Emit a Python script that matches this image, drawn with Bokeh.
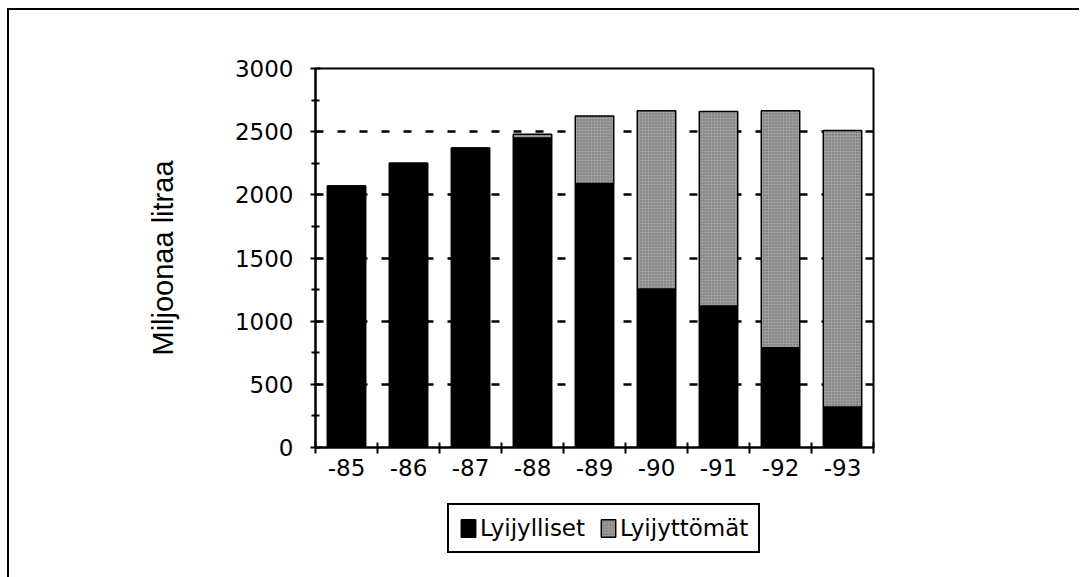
from bokeh.plotting import figure
from bokeh.layouts import column
from bokeh.models import Range1d, FixedTicker, Legend, LegendItem, ColumnDataSource
from bokeh.embed import file_html
from bokeh.resources import INLINE

years = ["-85", "-86", "-87", "-88", "-89", "-90", "-91", "-92", "-93"]
lyijylliset = [2070, 2250, 2370, 2450, 2090, 1255, 1120, 790, 320]
lyijyttomat = [0, 0, 0, 30, 535, 1410, 1540, 1875, 2190]
series = ["lyijylliset", "lyijyttomat"]
series_labels = ["Lyijylliset", "Lyijyttömät"]
y_ticks = [0, 500, 1000, 1500, 2000, 2500, 3000]
y_minor = [250, 750, 1250, 1750, 2250, 2750]

idx = list(range(len(years)))
src = ColumnDataSource(dict(x=idx, lyijylliset=lyijylliset, lyijyttomat=lyijyttomat))
fills = ["black", "#9c9c9c"]


def style_bars(rs):
    rs[1].glyph.hatch_pattern = "."
    rs[1].glyph.hatch_color = "#444444"
    rs[1].glyph.hatch_scale = 3
    rs[1].glyph.hatch_alpha = 0.6


p = figure(frame_width=558, frame_height=379, output_backend="svg", toolbar_location=None,
           x_range=Range1d(-0.5, len(years) - 0.5), y_range=Range1d(0, 3000),
           min_border_left=306, min_border_right=206, min_border_top=58, min_border_bottom=45)

p.outline_line_color = "black"
p.outline_line_width = 2
p.outline_line_alpha = 1
p.xgrid.grid_line_color = None
p.ygrid.ticker = FixedTicker(ticks=y_ticks)
p.ygrid.grid_line_color = "black"
p.ygrid.grid_line_width = 2.5
p.ygrid.grid_line_dash = "8 14"

rs = p.vbar_stack(series, x="x", width=0.62, source=src,
                  fill_color=fills, line_color="black", line_width=1.5)
style_bars(rs)

xa = p.xaxis[0]
xa.ticker = FixedTicker(ticks=idx, minor_ticks=[i - 0.5 for i in idx] + [len(idx) - 0.5])
xa.major_label_overrides = {i: years[i] for i in idx}
xa.major_tick_line_color = None
xa.minor_tick_in = 5
xa.minor_tick_out = 6
xa.minor_tick_line_width = 2
xa.minor_tick_line_color = "black"
xa.axis_line_width = 2
xa.axis_line_color = "black"
xa.major_label_text_font = "DejaVu Sans"
xa.major_label_text_font_size = "23px"
xa.major_label_text_color = "black"
xa.major_label_standoff = 5

ya = p.yaxis[0]
ya.ticker = FixedTicker(ticks=y_ticks, minor_ticks=y_minor)
ya.major_tick_in = 5
ya.major_tick_out = 5
ya.minor_tick_in = 4
ya.minor_tick_out = 4
ya.major_tick_line_width = 2
ya.minor_tick_line_width = 2
ya.major_tick_line_color = "black"
ya.minor_tick_line_color = "black"
ya.axis_line_width = 2
ya.axis_line_color = "black"
ya.major_label_text_font = "DejaVu Sans"
ya.major_label_text_font_size = "23px"
ya.major_label_text_color = "black"
ya.major_label_standoff = 17
ya.axis_label = "Miljoonaa litraa"
ya.axis_label_text_font = "Liberation Sans"
ya.axis_label_text_font_size = "29px"
ya.axis_label_text_font_style = "normal"
ya.axis_label_text_color = "black"
ya.axis_label_standoff = 53

# legend strip below the chart; its own bar renderers are hidden, only used for legend swatches
p2 = figure(frame_width=1070, frame_height=85, output_backend="svg", toolbar_location=None,
            x_range=Range1d(-0.5, len(years) - 0.5), y_range=Range1d(5000, 6000),
            x_axis_location=None, y_axis_location=None,
            min_border_left=0, min_border_right=0, min_border_top=0, min_border_bottom=0)
p2.outline_line_color = None
p2.grid.grid_line_color = None
rs2 = p2.vbar_stack(series, x="x", width=0.62, source=src,
                    fill_color=fills, line_color="black", line_width=1.5)
style_bars(rs2)
for r in rs2:
    r.visible = False

legend = Legend(items=[LegendItem(label=series_labels[i], renderers=[rs2[i]]) for i in range(2)],
                orientation="horizontal", location=(438, 24))
legend.inactive_fill_alpha = 0
legend.border_line_color = "black"
legend.border_line_width = 2
legend.border_line_alpha = 1
legend.background_fill_alpha = 1
legend.label_text_font = "DejaVu Sans"
legend.label_text_font_size = "23px"
legend.label_text_color = "black"
legend.glyph_width = 18
legend.glyph_height = 22
legend.label_standoff = 3
legend.spacing = 14
legend.padding = 10
legend.margin = 0
p2.add_layout(legend, "center")

layout = column(p, p2, spacing=0)
layout.styles = {"border-top": "2px solid black", "border-left": "2px solid black",
                 "margin-top": "8px", "margin-left": "7px"}

open("out.html", "w").write(file_html(layout, INLINE))
